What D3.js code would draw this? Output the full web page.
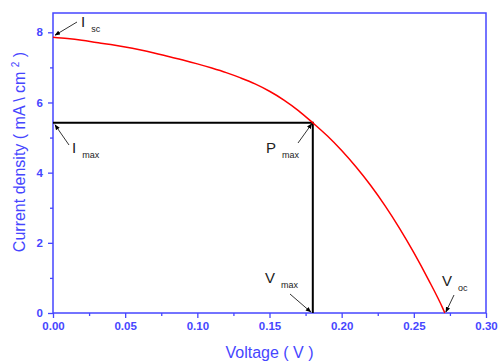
<!DOCTYPE html>
<html>
<head>
<meta charset="utf-8">
<script src="https://cdn.jsdelivr.net/npm/d3@7"></script>
<style>
  body { margin: 0; background: #fff; }
  svg { font-family: "Liberation Sans", Arial, sans-serif; }
</style>
</head>
<body>
<svg id="chart" width="498" height="363"></svg>
<script>
// J-V curve
const voltage = [0, 0.01, 0.02, 0.03, 0.04, 0.05, 0.06, 0.07, 0.08, 0.09,
  0.10, 0.11, 0.12, 0.13, 0.14, 0.15, 0.16, 0.17, 0.18, 0.19,
  0.20, 0.21, 0.22, 0.23, 0.24, 0.25, 0.26, 0.27, 0.2715];
const current = [7.86, 7.82, 7.77, 7.71, 7.65, 7.58, 7.50, 7.41, 7.31, 7.21,
  7.10, 6.98, 6.85, 6.70, 6.53, 6.32, 6.07, 5.77, 5.42, 5.05,
  4.63, 4.16, 3.64, 3.06, 2.42, 1.72, 0.96, 0.14, 0];

const pMax = [0.18, 5.42];
const xTicks = [0, 0.05, 0.1, 0.15, 0.2, 0.25, 0.3];
const yTicks = [0, 2, 4, 6, 8];

const blue = "#4646ff";
const margin = {left: 53, right: 12, top: 13, bottom: 50};
const width = 498, height = 363;

const svg = d3.select("#chart");

const x = d3.scaleLinear().domain([0, 0.3]).range([margin.left, width - margin.right]);
const y = d3.scaleLinear().domain([0, 8.55]).range([height - margin.bottom, margin.top]);

// frame
svg.append("rect")
  .attr("x", x(0)).attr("y", y(8.55))
  .attr("width", x(0.3) - x(0)).attr("height", y(0) - y(8.55))
  .attr("fill", "none").attr("stroke", blue).attr("stroke-width", 1.5);

// minor ticks
let xAxisMinor = d3.axisBottom(x).tickValues(d3.range(0.025, 0.3, 0.05)).tickSize(3).tickFormat("");
let yAxisMinor = d3.axisLeft(y).tickValues([1, 3, 5, 7]).tickSize(3).tickFormat("");

let xAxis = d3.axisBottom(x).tickValues(xTicks).tickSize(5).tickPadding(4)
  .tickFormat(d3.format(".2f"));
let yAxis = d3.axisLeft(y).tickValues(yTicks).tickSize(5).tickPadding(5)
  .tickFormat(d3.format("d"));

function styleAxis(g) {
  g.select(".domain").remove();
  g.selectAll("line").attr("stroke", blue).attr("stroke-width", 1.3);
  g.selectAll("text").attr("fill", blue).attr("font-size", 11.5)
    .attr("font-weight", "bold").attr("font-family", "Liberation Sans, Arial, sans-serif");
}

svg.append("g").attr("transform", `translate(0,${y(0)})`).call(xAxisMinor).call(styleAxis);
svg.append("g").attr("transform", `translate(${x(0)},0)`).call(yAxisMinor).call(styleAxis);
svg.append("g").attr("transform", `translate(0,${y(0)})`).call(xAxis).call(styleAxis);
svg.append("g").attr("transform", `translate(${x(0)},0)`).call(yAxis).call(styleAxis);

// axis titles
svg.append("text")
  .attr("x", (x(0) + x(0.3)) / 2).attr("y", 358)
  .attr("text-anchor", "middle").attr("fill", blue)
  .attr("font-size", 16).text("Voltage ( V )");

let yTitle = svg.append("text")
  .attr("transform", `translate(25,152) rotate(-90)`)
  .attr("text-anchor", "middle").attr("fill", blue).attr("font-size", 16);
yTitle.append("tspan").text("Current density ( mA \\ cm ");
yTitle.append("tspan").attr("dy", -6).attr("font-size", 10).text("2");
yTitle.append("tspan").attr("dy", 6).text(" )");

// Pmax guide lines
svg.append("path")
  .attr("d", d3.line()([[x(0), y(pMax[1])], [x(pMax[0]), y(pMax[1])], [x(pMax[0]), y(0)]]))
  .attr("fill", "none").attr("stroke", "#000").attr("stroke-width", 2);

// curve
const line = d3.line().x((d, i) => x(voltage[i])).y(d => y(d)).curve(d3.curveMonotoneX);
svg.append("path")
  .datum(current)
  .attr("d", line)
  .attr("fill", "none").attr("stroke", "#ff0000").attr("stroke-width", 1.5);

// arrow head
svg.append("defs").append("marker")
  .attr("id", "arr").attr("viewBox", "0 0 10 10")
  .attr("refX", 9).attr("refY", 5)
  .attr("markerWidth", 7).attr("markerHeight", 7)
  .attr("orient", "auto")
  .append("path").attr("d", "M0,1L10,5L0,9Z").attr("fill", "#000");

// annotations: label, subscript, arrow from -> to
const notes = [
  {main: "I", sub: "sc", tx: 81, ty: 27, from: [77, 22], to: [x(0) + 2, y(current[0]) - 2]},
  {main: "I", sub: "max", tx: 72, ty: 153, from: [69, 145], to: [x(0) + 2, y(pMax[1]) + 2]},
  {main: "P", sub: "max", tx: 266, ty: 153, from: [298, 143], to: [x(pMax[0]) - 1, y(pMax[1]) + 1]},
  {main: "V", sub: "max", tx: 265, ty: 283, from: [290, 294], to: [x(pMax[0]) - 2, y(0) - 1]},
  {main: "V", sub: "oc", tx: 442, ty: 286, from: [454, 295], to: [x(0.2715) + 1, y(0) - 1]}
];

notes.forEach(n => {
  svg.append("line")
    .attr("x1", n.from[0]).attr("y1", n.from[1])
    .attr("x2", n.to[0]).attr("y2", n.to[1])
    .attr("stroke", "#000").attr("stroke-width", 0.8)
    .attr("marker-end", "url(#arr)");
  let t = svg.append("text").attr("x", n.tx).attr("y", n.ty)
    .attr("fill", "#222").attr("font-size", 15);
  t.append("tspan").text(n.main);
  t.append("tspan").attr("dx", 6).attr("dy", 5).attr("font-size", 9).text(n.sub);
});
</script>
</body>
</html>
